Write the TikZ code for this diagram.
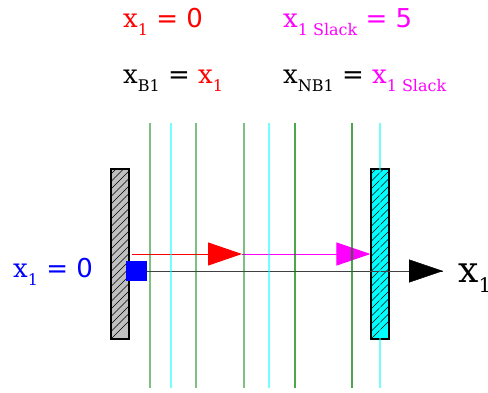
\documentclass[tikz,border=0pt]{standalone}
\usepackage{fontspec}
\setmainfont{DejaVu Serif}
\newfontfamily\sansf{DejaVu Sans}
\usetikzlibrary{arrows.meta}
\definecolor{myred}{RGB}{255,0,0}
\definecolor{mymag}{RGB}{255,0,255}
\definecolor{mycyan}{RGB}{0,255,255}
\definecolor{myblue}{RGB}{0,0,255}
\definecolor{mygreen}{RGB}{0,128,0}
\definecolor{mygray}{RGB}{192,192,192}
\newcommand{\mysub}[1]{\raisebox{-8pt}{\fontsize{16}{16}\selectfont #1}}
\newcommand{\bigsub}[1]{\raisebox{-10pt}{\fontsize{20}{20}\selectfont #1}}
\begin{document}
\begin{tikzpicture}[x=1pt,y=-1pt,
  lbl/.style={anchor=base west, inner sep=0pt, font=\fontsize{26}{30}\selectfont},
  wallbox/.style={rectangle, draw=black, line width=1.1pt, minimum width=18pt, minimum height=170pt, inner sep=0pt},
  hatchline/.style={line width=0.55pt, black},
  gline/.style={draw=mygreen, line width=1.5pt, opacity=0.5},
  gdark/.style={draw=mygreen, line width=1.5pt, opacity=0.7},
  cline/.style={draw=mycyan, line width=1.5pt, opacity=0.55},
  bigtip/.style={-{Triangle[length=34pt,width=23pt]}}
]
\useasboundingbox (0,0) rectangle (488,392);

% labels
\node[lbl, text=myred] (t1) at (123,27) {x\mysub{1} {\sansf = 0}};
\node[lbl, text=mymag] (t2) at (283,27) {x\mysub{1 Slack} {\sansf = 5}};
\node[lbl, text=black] (t3) at (123,83) {x\mysub{B1} {\sansf =} \textcolor{myred}{x\mysub{1}}};
\node[lbl, text=black] (t4) at (283,83) {x\mysub{NB1} {\sansf =} \textcolor{mymag}{x\mysub{1 Slack}}};
\node[lbl, text=myblue] (t5) at (13,277) {x\mysub{1} {\sansf = 0}};
\node[anchor=base west, inner sep=0pt, font=\fontsize{36}{40}\selectfont] (xlab) at (458,282) {x\bigsub{1}};

% walls
\node[wallbox, fill=mygray] (wallL) at (120,254) {};
\node[wallbox, fill=mycyan] (wallR) at (380,254) {};
\foreach \w in {wallL,wallR}{
  \begin{scope}
    \clip (\w.south west) rectangle (\w.north east);
    \path (\w.south west) coordinate (sw);
    \foreach \i in {0,...,25}{
      \draw[hatchline] ([yshift=7.5*\i pt]sw) -- ++(18,-18);
    }
  \end{scope}
  \node[wallbox] at (\w) {};
}

% arrows
\coordinate (rs) at (132,254);
\coordinate (rm) at (242,254);
\draw[myred, line width=1pt, bigtip] (rs) -- (rm);
\draw[mymag, line width=1pt, bigtip] (rm) -- (wallR.west |- rm);

\node[rectangle, fill=myblue, minimum width=21pt, minimum height=20pt, inner sep=0pt] (sq) at (136.5,271) {};
\coordinate (axend) at (443,271);
\draw[black!75, line width=1pt] (sq.east) -- (axend);
\draw[black, bigtip] ([xshift=-1pt]axend) -- (axend);

% vertical lines
\foreach \x in {150,196,244}{ \draw[gline] (\x,123) -- (\x,388); }
\foreach \x in {295,352}{ \draw[gdark] (\x,123) -- (\x,388); }
\foreach \x in {171,269,380}{ \draw[cline] (\x,123) -- (\x,388); }
\end{tikzpicture}
\end{document}
